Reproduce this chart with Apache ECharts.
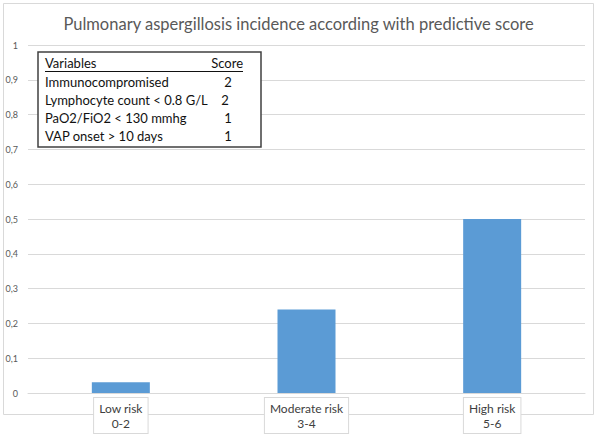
<!DOCTYPE html>
<html>
<head>
<meta charset="utf-8">
<script src="https://cdn.jsdelivr.net/npm/echarts@6/dist/echarts.min.js"></script>
<style>
  html, body { margin: 0; padding: 0; background: #fff; }
  #chart { width: 597px; height: 436px; }
</style>
</head>
<body>
<div id="chart"></div>
<script>
const categories = ["Low risk\n0-2", "Moderate risk\n3-4", "High risk\n5-6"];
const incidence = [0.031, 0.24, 0.5];

// inset table
const variables = [
  "Immunocompromised",
  "Lymphocyte count < 0.8 G/L",
  "PaO2/FiO2 < 130 mmhg",
  "VAP onset > 10 days",
];
const scores = ["2", "2", "1", "1"];

const FONT = "Lato, 'Open Sans', sans-serif";
const chart = echarts.init(document.getElementById("chart"), null, { renderer: "svg" });

// build the little score table as graphic elements
const tableEls = [
  {
    type: "rect",
    shape: { x: 38, y: 52, width: 223, height: 95 },
    style: { fill: "#fff", stroke: "#404040", lineWidth: 1.5 },
    z: 10,
  },
  {
    type: "text",
    x: 45, y: 63,
    style: { text: "Variables", font: "13px " + FONT, fill: "#111", verticalAlign: "middle" },
    z: 11,
  },
  {
    type: "text",
    x: 243, y: 63,
    style: { text: "Score", font: "13px " + FONT, fill: "#111", align: "right", verticalAlign: "middle" },
    z: 11,
  },
  {
    type: "line",
    shape: { x1: 45, y1: 71.5, x2: 243, y2: 71.5 },
    style: { stroke: "#111", lineWidth: 1 },
    z: 11,
  },
];
variables.forEach((v, i) => {
  const y = 82 + i * 18;
  tableEls.push({
    type: "text",
    x: 45, y: y,
    style: { text: v, font: "13px " + FONT, fill: "#111", verticalAlign: "middle" },
    z: 11,
  });
  tableEls.push({
    type: "text",
    x: i === 1 ? 225 : 228, y: y,
    style: { text: scores[i], font: "13px " + FONT, fill: "#111", align: "center", verticalAlign: "middle" },
    z: 11,
  });
});

chart.setOption({
  animation: false,
  backgroundColor: "#fff",
  title: {
    text: "Pulmonary aspergillosis incidence according with predictive score",
    left: "center",
    top: 10,
    textStyle: { fontFamily: FONT, fontSize: 16.5, fontWeight: "normal", color: "#595959" },
  },
  grid: { left: 28, right: 12, top: 45, bottom: 43, containLabel: false },
  xAxis: {
    type: "category",
    data: categories,
    axisLine: { show: true, lineStyle: { color: "#d9d9d9" } },
    axisTick: { show: false },
    axisLabel: {
      margin: 5,
      fontFamily: FONT,
      fontSize: 12,
      lineHeight: 15,
      color: "#404040",
      backgroundColor: "#fff",
      borderColor: "#d9d9d9",
      borderWidth: 1,
      padding: [3, 5, 2, 5],
      align: "center",
    },
  },
  yAxis: {
    type: "value",
    min: 0,
    max: 1,
    interval: 0.1,
    axisLine: { show: false },
    axisTick: { show: false },
    splitLine: { lineStyle: { color: "#d9d9d9" } },
    axisLabel: {
      margin: 10,
      fontFamily: FONT,
      fontSize: 9,
      color: "#595959",
      formatter: (v) => String(Math.round(v * 10) / 10).replace(".", ","),
    },
  },
  series: [
    {
      type: "bar",
      data: incidence,
      barWidth: 58,
      itemStyle: { color: "#5b9bd5" },
    },
  ],
  graphic: [
    {
      type: "rect",
      shape: { x: 3.5, y: 3.5, width: 590, height: 411 },
      style: { fill: "none", stroke: "#d9d9d9", lineWidth: 1 },
      z: -1,
      silent: true,
    },
    ...tableEls,
  ],
});
</script>
</body>
</html>
